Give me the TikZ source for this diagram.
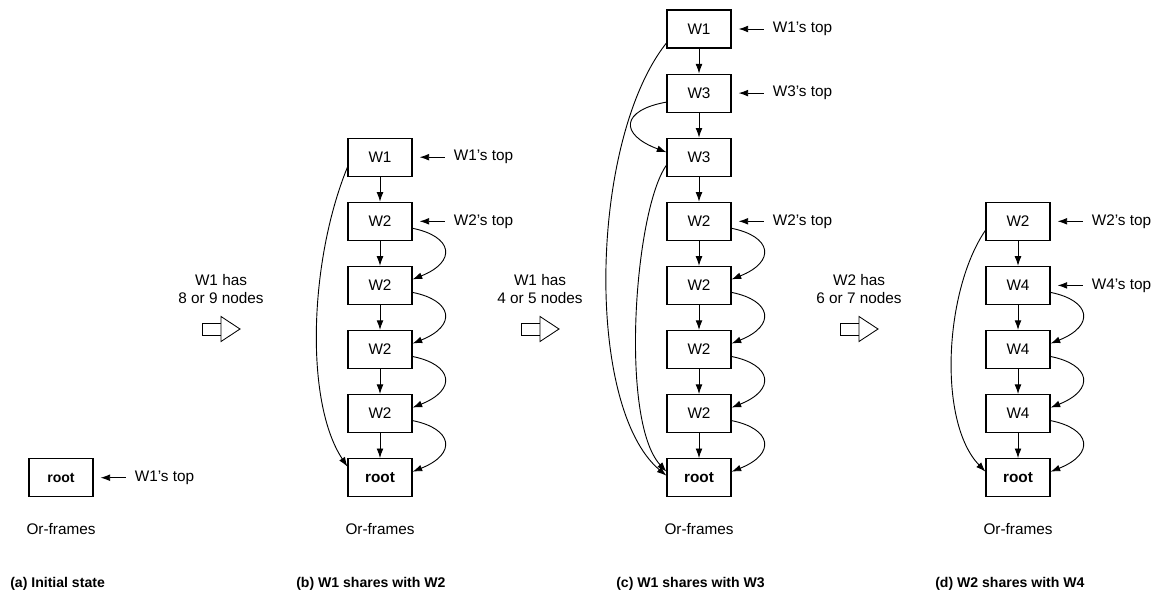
\documentclass[tikz,border=0pt]{standalone}
\usepackage{fontspec}
\setmainfont{Liberation Sans}
\usetikzlibrary{arrows.meta,calc,positioning}
\tikzset{
  frm/.style={draw,line width=0.8pt,minimum width=1.6cm,minimum height=0.95cm,inner sep=0pt},
  lnk/.style={-{Latex[length=2.4mm,width=1.7mm]},line width=0.65pt},
  lab/.style={anchor=west,inner sep=0pt},
  subcap/.style={anchor=west,inner sep=0pt,font=\bfseries},
  note/.style={align=center,inner sep=0pt},
  fat/.style={draw,line width=0.6pt,fill=white},
}
% label with a short arrow pointing at a frame
\newcommand{\toplab}[2]{%
  \node[lab] (#1-lab) at ($(#1.east)+(41,0)$) {#2};
  \draw[lnk] ($(#1-lab.west)+(-9,0)$) -- ($(#1.east)+(7,0)$);}
% hollow block arrow between panels
\newcommand{\fatarrow}[1]{%
  \draw[fat] ($(#1)+(-19,-6)$) rectangle ($(#1)+(0,6)$);
  \draw[fat] ($(#1)+(0,-12.5)$) -- ($(#1)+(19,0)$) -- ($(#1)+(0,12.5)$) -- cycle;}
% curved link on the right side of a stack
\newcommand{\rloop}[2]{%
  \draw[lnk] ($(#1.east)+(0,7)$) .. controls +(40,8) and +(45,-18) .. ($(#2.east)+(0,-6)$);}

\begin{document}
\begin{tikzpicture}[x=0.025cm,y=-0.025cm,font=\fontsize{10.9}{12.8}\selectfont]
\useasboundingbox (0,0) rectangle (1154,599);
\def\gy{29}\def\gd{64.1}

% ---- (a) initial state ----
\node[frm,font=\bfseries] (a7) at (61,{\gy+\gd*7}) {root};
\toplab{a7}{W1’s top}
\node[note] (a-or) at (61,529) {Or-frames};
\node[subcap] (a-cap) at (10,584) {(a) Initial state};

\coordinate (t1) at (221,329);
\node[note] (t1-txt) at (221,289) {W1 has\\8 or 9 nodes};
\fatarrow{t1}

% ---- (b) W1 shares with W2 ----
\foreach \t [count=\k from 2] in {W1,W2,W2,W2,W2,\textbf{root}}{
  \node[frm] (b\k) at (380,{\gy+\gd*\k}) {\t};
}
\foreach \k [evaluate=\k as \n using int(\k+1)] in {2,...,6}{
  \draw[lnk] (b\k) -- (b\n);
}
\foreach \k [evaluate=\k as \n using int(\k+1)] in {3,...,6}{
  \rloop{b\k}{b\n}
}
\draw[lnk] ($(b2.west)+(0,10)$) .. controls +(-38,93) and +(-43,-65) .. ($(b7.west)+(0,-11)$);
\toplab{b2}{W1’s top}
\toplab{b3}{W2’s top}
\node[note] (b-or) at (380,529) {Or-frames};
\node[subcap] (b-cap) at (296,584) {(b) W1 shares with W2};

\coordinate (t2) at (540,329);
\node[note] (t2-txt) at (540,289) {W1 has\\4 or 5 nodes};
\fatarrow{t2}

% ---- (c) W1 shares with W3 ----
\foreach \t [count=\k from 0] in {W1,W3,W3,W2,W2,W2,W2,\textbf{root}}{
  \node[frm] (c\k) at (699,{\gy+\gd*\k}) {\t};
}
\foreach \k [evaluate=\k as \n using int(\k+1)] in {0,...,6}{
  \draw[lnk] (c\k) -- (c\n);
}
\foreach \k [evaluate=\k as \n using int(\k+1)] in {3,...,6}{
  \rloop{c\k}{c\n}
}
\draw[lnk] ($(c1.west)+(0,9)$) .. controls +(-45,8) and +(-48,-18) .. ($(c2.west)+(0,-5)$);
\draw[lnk] ($(c0.west)+(0,14)$) .. controls +(-77,97) and +(-82,-69) .. ($(c7.west)+(0,-2)$);
\draw[lnk] ($(c2.west)+(0,8)$) .. controls +(-32,45) and +(-47,-51) .. ($(c7.west)+(0,-6)$);
\toplab{c0}{W1’s top}
\toplab{c1}{W3’s top}
\toplab{c3}{W2’s top}
\node[note] (c-or) at (699,529) {Or-frames};
\node[subcap] (c-cap) at (616,584) {(c) W1 shares with W3};

\coordinate (t3) at (859,329);
\node[note] (t3-txt) at (859,289) {W2 has\\6 or 7 nodes};
\fatarrow{t3}

% ---- (d) W2 shares with W4 ----
\foreach \t [count=\k from 3] in {W2,W4,W4,W4,\textbf{root}}{
  \node[frm] (d\k) at (1018,{\gy+\gd*\k}) {\t};
}
\foreach \k [evaluate=\k as \n using int(\k+1)] in {3,...,6}{
  \draw[lnk] (d\k) -- (d\n);
}
\foreach \k [evaluate=\k as \n using int(\k+1)] in {4,...,6}{
  \rloop{d\k}{d\n}
}
\draw[lnk] ($(d3.west)+(0,9)$) .. controls +(-41,60) and +(-48,-50) .. ($(d7.west)+(0,-6)$);
\toplab{d3}{W2’s top}
\toplab{d4}{W4’s top}
\node[note] (d-or) at (1018,529) {Or-frames};
\node[subcap] (d-cap) at (935,584) {(d) W2 shares with W4};
\end{tikzpicture}
\end{document}
